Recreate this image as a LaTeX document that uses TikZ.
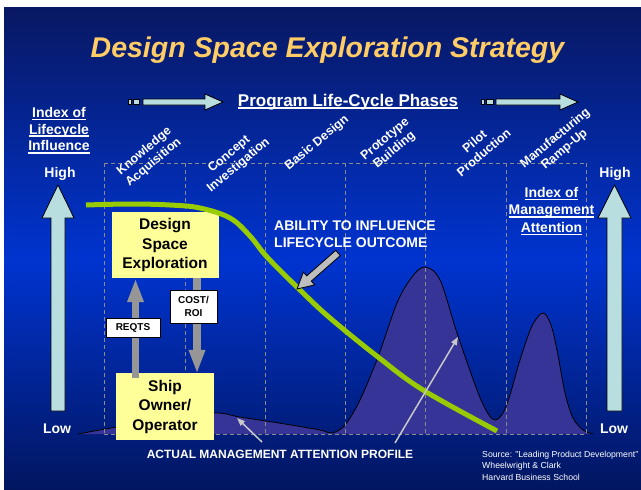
\documentclass[tikz,border=0pt]{standalone}
\usepackage{fontspec}
\setmainfont{Liberation Sans}
\usetikzlibrary{arrows.meta}
\definecolor{bgtop}{RGB}{8,24,98}
\definecolor{bgmid}{RGB}{0,52,208}
\definecolor{bgbot}{RGB}{2,22,96}
\definecolor{titlegold}{RGB}{255,204,102}
\definecolor{paleblue}{RGB}{184,222,224}
\definecolor{boxyellow}{RGB}{255,255,153}
\definecolor{blockgray}{RGB}{150,150,150}
\definecolor{pointgray}{RGB}{190,190,190}
\definecolor{thingray}{RGB}{200,200,200}
\definecolor{dashgray}{RGB}{140,140,140}
\definecolor{profilefill}{RGB}{54,52,150}
\definecolor{limegreen}{RGB}{153,204,0}
\newcommand\undl[1]{\setbox0\hbox{#1}\rlap{\rule[-3pt]{\wd0}{1.8pt}}\box0}
\begin{document}
\begin{tikzpicture}[x=1pt,y=-1pt,
 whitebold/.style={text=white,inner sep=0pt,align=center},
 phase/.style={whitebold,rotate=40,font=\fontsize{12.5}{14.5}\selectfont\bfseries},
 axislbl/.style={whitebold,font=\fontsize{14}{16.7}\selectfont\bfseries},
 ybox/.style={fill=boxyellow,inner sep=0pt,align=center,font=\fontsize{15.5}{19.5}\selectfont\bfseries},
 tagbox/.style={fill=white,draw=black,line width=0.8pt,inner sep=0pt,align=center,font=\fontsize{10}{12.5}\selectfont\bfseries},
 dashline/.style={draw=dashgray,line width=1pt,dash pattern=on 4pt off 3pt},
 cyanarrow/.style={fill=paleblue,draw=black,line width=0.8pt,line join=miter},
 blockarrow/.style={draw=blockgray,line width=7.5pt,-{Triangle[width=15pt,length=24pt]}},
 thinarrow/.style={draw=thingray,line width=1.5pt,-{Triangle[width=6pt,length=8pt]}}
]
\useasboundingbox (0,0) rectangle (641,490);
\fill[white] (0,0) rectangle (641,490);
\shade[top color=bgtop,bottom color=bgmid] (4,7) rectangle (641,261);
\shade[top color=bgmid,bottom color=bgbot] (4,260) rectangle (641,489);

% attention profile
\fill[profilefill] plot[smooth,tension=0.55] coordinates {(78,434) (117,427) (170,419) (215,413) (240,417) (285,424) (320,430) (332,433) (345,425) (360,400) (378,357) (397,303) (412,277) (425,267) (440,280) (457,333) (477,390) (487,412) (495,420) (503,413) (510,395) (520,360) (532,326) (543,313) (551,325) (557,350) (565,393) (573,418) (583,430) (593,434)} -- cycle;
\draw[black,line width=0.8pt] plot[smooth,tension=0.55] coordinates {(78,434) (117,427) (170,419) (215,413) (240,417) (285,424) (320,430) (332,433) (345,425) (360,400) (378,357) (397,303) (412,277) (425,267) (440,280) (457,333) (477,390) (487,412) (495,420) (503,413) (510,395) (520,360) (532,326) (543,313) (551,325) (557,350) (565,393) (573,418) (583,430) (593,434)};

% phase grid
\foreach \x in {104,185,265,345,425,506,586} \draw[dashline] (\x,163) -- (\x,434);
\draw[dashline] (104,163) -- (586,163);
\draw[dashline] (104,434) -- (586,434);

% phase labels
\node[phase] (p1) at (149,157) {Knowledge\\Acquisition};
\node[phase] (p2) at (234,160) {Concept\\Investigation};
\node[phase] (p3) at (317,143) {Basic Design};
\node[phase] (p4) at (390,145) {Prototype\\Building};
\node[phase] (p5) at (479,147) {Pilot\\Production};
\node[phase] (p6) at (560,144) {Manufacturing\\Ramp-Up};

% boxes
\node[ybox,minimum width=107pt,minimum height=66pt] (dse) at (165,245) {Design\\Space\\Exploration};
\node[ybox,minimum width=98pt,minimum height=67pt] (ship) at (165,406.5) {Ship\\Owner/\\Operator};
\draw[blockarrow] ([xshift=-29.5pt,yshift=-5pt]ship.north) -- ([xshift=-29.5pt]dse.south);
\draw[blockarrow] ([xshift=32pt]dse.south) -- ([xshift=32pt,yshift=-1pt]ship.north);
\node[tagbox,minimum width=54pt,minimum height=19pt] (reqts) at (133,327.5) {REQTS};
\node[tagbox,minimum width=47pt,minimum height=33pt] (cost) at (193.5,306.5) {COST/\\ROI};

% ability curve
\draw[limegreen,line width=5pt] plot[smooth,tension=0.6] coordinates {(86,205) (130,204) (170,205) (200,208) (230,218) (250,236) (267,257) (300,290) (330,318) (378,357) (423,390) (497,431)};
\node[whitebold,align=left,anchor=north west,font=\fontsize{14}{16.5}\selectfont\bfseries] (ability) at (274,221) {ABILITY TO INFLUENCE\\LIFECYCLE OUTCOME};
\filldraw[fill=pointgray,draw=black,line width=0.8pt] (340.3,255.6) -- (311.3,281.1) -- (314.6,284.9) -- (297,289) -- (303.4,272.1) -- (306.7,275.9) -- (335.7,250.4) -- cycle;

% profile label and pointers
\node[whitebold,anchor=base,font=\fontsize{12}{14}\selectfont\bfseries] (actual) at (280,458) {ACTUAL MANAGEMENT ATTENTION PROFILE};
\coordinate (t1) at (262,442); \coordinate (h1) at (237,418);
\coordinate (t2) at (395,443); \coordinate (h2) at (458,337);
\draw[thinarrow] (t1) -- (h1);
\draw[thinarrow] (t2) -- (h2);

% title and phase header
\node[anchor=base,text=titlegold,inner sep=0pt,font=\fontsize{28.5}{34}\selectfont\bfseries\itshape] (title) at (327.5,57) {Design Space Exploration Strategy};
\node[whitebold,anchor=base,font=\fontsize{17}{20}\selectfont\bfseries] (phases) at (348,106) {\undl{Program Life-Cycle Phases}};
\fill[paleblue,draw=black,line width=0.8pt] (128,99.5) rectangle (131,104.5);
\fill[paleblue,draw=black,line width=0.8pt] (133,99.5) rectangle (139,104.5);
\filldraw[cyanarrow] (143,99) -- (205,99) -- (205,94) -- (223,102) -- (205,110) -- (205,105) -- (143,105) -- cycle;
\fill[paleblue,draw=black,line width=0.8pt] (481,99.5) rectangle (484,104.5);
\fill[paleblue,draw=black,line width=0.8pt] (486,99.5) rectangle (493,104.5);
\filldraw[cyanarrow] (496,99) -- (560,99) -- (560,94) -- (578,102) -- (560,110) -- (560,105) -- (496,105) -- cycle;

% axes
\node[axislbl,anchor=north] (lci) at (59,107) {\undl{Index of}\\\undl{Lifecycle}\\\undl{Influence}};
\node[axislbl,anchor=base] (hl) at (60,177) {High};
\node[axislbl,anchor=base] (ll) at (57,433) {Low};
\filldraw[cyanarrow] (51,411) -- (51,218) -- (42,218) -- (58,185) -- (74,218) -- (65,218) -- (65,411) -- cycle;
\node[axislbl,anchor=north,font=\fontsize{14}{17.5}\selectfont\bfseries] (mai) at (551.5,187) {\undl{Index of}\\\undl{Management}\\\undl{Attention}};
\node[axislbl,anchor=base] (hr) at (615,177) {High};
\node[axislbl,anchor=base] (lr) at (614,433) {Low};
\filldraw[cyanarrow] (607,411) -- (607,218) -- (598,218) -- (614.5,185) -- (631,218) -- (622,218) -- (622,411) -- cycle;

% source
\node[anchor=north west,align=left,inner sep=0pt,text=white,font=\fontsize{8.7}{11.5}\selectfont] (src) at (482,450.5) {Source: "Leading Product Development"\\Wheelwright \& Clark\\Harvard Business School};
\end{tikzpicture}
\end{document}
